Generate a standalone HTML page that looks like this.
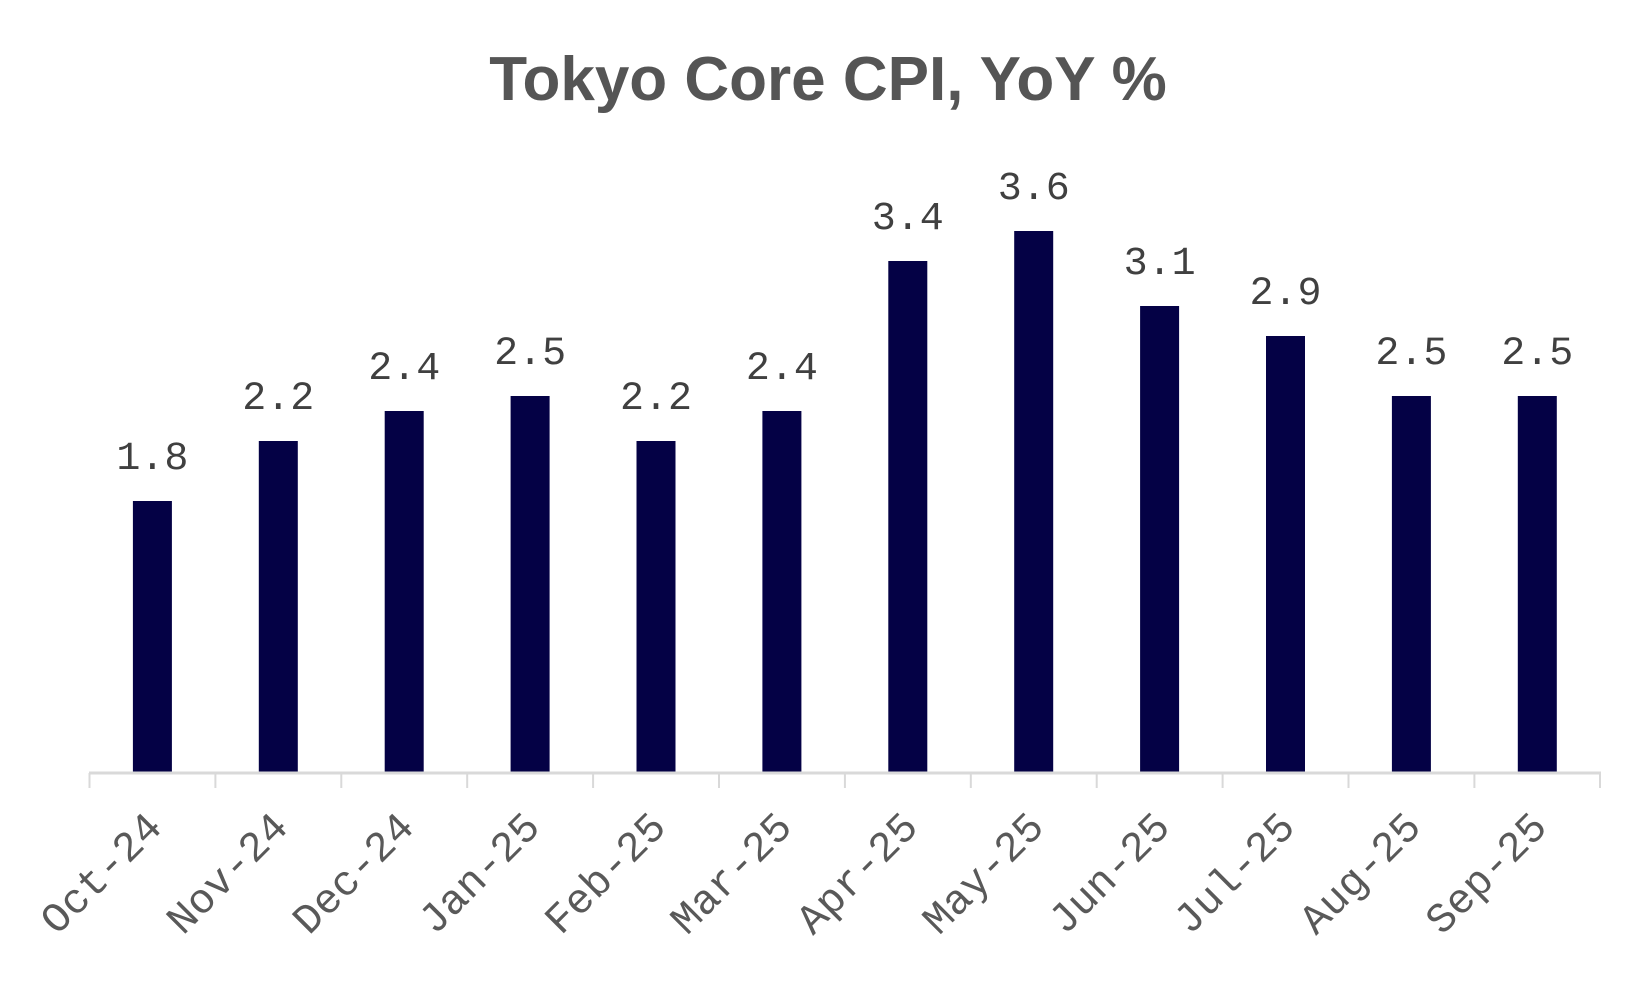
<!DOCTYPE html>
<html><head><style>body{margin:0;background:#fff}</style></head><body>
<svg width="1650" height="980" xmlns="http://www.w3.org/2000/svg">
<text x="828" y="100" text-anchor="middle" font-family="Liberation Sans, sans-serif" font-weight="bold" font-size="62" fill="#555">Tokyo Core CPI, YoY %</text>
<g fill="#040145">
<rect x="132.9" y="501" width="39" height="271"/>
<rect x="258.8" y="441" width="39" height="331"/>
<rect x="384.7" y="411" width="39" height="361"/>
<rect x="510.6" y="396" width="39" height="376"/>
<rect x="636.5" y="441" width="39" height="331"/>
<rect x="762.4" y="411" width="39" height="361"/>
<rect x="888.3" y="261" width="39" height="511"/>
<rect x="1014.2" y="231" width="39" height="541"/>
<rect x="1140.1" y="306" width="39" height="466"/>
<rect x="1266" y="336" width="39" height="436"/>
<rect x="1391.9" y="396" width="39" height="376"/>
<rect x="1517.8" y="396" width="39" height="376"/>
</g>
<g font-family="Liberation Mono, monospace" font-size="40" fill="#404040" text-anchor="middle">
<text x="152.4" y="469">1.8</text>
<text x="278.3" y="409">2.2</text>
<text x="404.2" y="379">2.4</text>
<text x="530.1" y="364">2.5</text>
<text x="656" y="409">2.2</text>
<text x="781.9" y="379">2.4</text>
<text x="907.8" y="229">3.4</text>
<text x="1033.7" y="199">3.6</text>
<text x="1159.6" y="274">3.1</text>
<text x="1285.5" y="304">2.9</text>
<text x="1411.4" y="364">2.5</text>
<text x="1537.3" y="364">2.5</text>
</g>
<line x1="89" y1="773" x2="1601" y2="773" stroke="#d9d9d9" stroke-width="3"/>
<g stroke="#d9d9d9" stroke-width="2">
<line x1="89.5" y1="773" x2="89.5" y2="788"/><line x1="215.4" y1="773" x2="215.4" y2="788"/><line x1="341.3" y1="773" x2="341.3" y2="788"/><line x1="467.2" y1="773" x2="467.2" y2="788"/><line x1="593.1" y1="773" x2="593.1" y2="788"/><line x1="719" y1="773" x2="719" y2="788"/><line x1="844.9" y1="773" x2="844.9" y2="788"/><line x1="970.8" y1="773" x2="970.8" y2="788"/><line x1="1096.7" y1="773" x2="1096.7" y2="788"/><line x1="1222.6" y1="773" x2="1222.6" y2="788"/><line x1="1348.5" y1="773" x2="1348.5" y2="788"/><line x1="1474.4" y1="773" x2="1474.4" y2="788"/><line x1="1600" y1="773" x2="1600" y2="788"/>
</g>
<g font-family="Liberation Mono, monospace" font-size="42" fill="#595959" text-anchor="end">
<text transform="translate(164,829) rotate(-45)">Oct-24</text>
<text transform="translate(290,829) rotate(-45)">Nov-24</text>
<text transform="translate(416,829) rotate(-45)">Dec-24</text>
<text transform="translate(542,829) rotate(-45)">Jan-25</text>
<text transform="translate(668,829) rotate(-45)">Feb-25</text>
<text transform="translate(794,829) rotate(-45)">Mar-25</text>
<text transform="translate(920,829) rotate(-45)">Apr-25</text>
<text transform="translate(1046,829) rotate(-45)">May-25</text>
<text transform="translate(1172,829) rotate(-45)">Jun-25</text>
<text transform="translate(1297,829) rotate(-45)">Jul-25</text>
<text transform="translate(1423,829) rotate(-45)">Aug-25</text>
<text transform="translate(1549,829) rotate(-45)">Sep-25</text>
</g>
</svg>
</body></html>
